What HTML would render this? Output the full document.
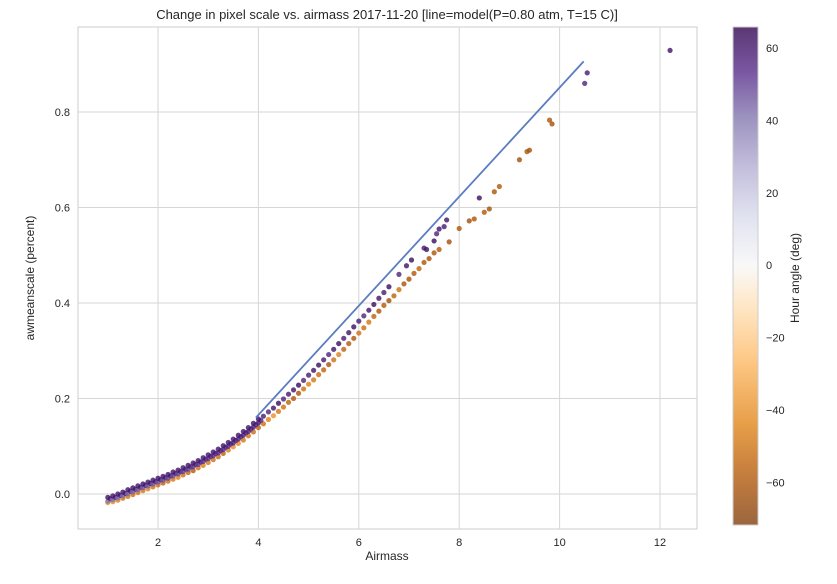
<!DOCTYPE html>
<html><head><meta charset="utf-8"><style>
body{margin:0;background:#fff;}
svg text{font-family:"Liberation Sans",sans-serif;fill:#262626;}
</style></head><body>
<svg id="chart" width="837" height="579" xmlns="http://www.w3.org/2000/svg">
<defs>
<linearGradient id="cbg" x1="0" y1="1" x2="0" y2="0">
<stop offset="0" stop-color="#7f3b08"/><stop offset="0.1" stop-color="#b35806"/><stop offset="0.2" stop-color="#e08214"/><stop offset="0.33" stop-color="#fdb863"/><stop offset="0.44" stop-color="#fee0b6"/><stop offset="0.52" stop-color="#f7f7f7"/><stop offset="0.62" stop-color="#d8daeb"/><stop offset="0.72" stop-color="#b2abd2"/><stop offset="0.82" stop-color="#8073ac"/><stop offset="0.91" stop-color="#542788"/><stop offset="1" stop-color="#2d004b"/>
</linearGradient>
</defs>
<g id="plot"></g>
</svg>
<script>
const xTicks=[2,4,6,8,10,12];
const yTicks=[0.0,0.2,0.4,0.6,0.8];
const cbTicks=[60,40,20,0,-20,-40,-60];
const lineX=[3.95,10.48];
const lineY=[0.16,0.906];
const lowAirmass=[1.0,1.1,1.2,1.3,1.4,1.5,1.6,1.7,1.8,1.9,2.0,2.1,2.2,2.3,2.4,2.5,2.6,2.7,2.8,2.9,3.0,3.1,3.2,3.3,3.4,3.5,3.6,3.7,3.8,3.9,4.0];
const lowScale=[-0.012,-0.009,-0.005,-0.001,0.004,0.008,0.012,0.016,0.020,0.024,0.028,0.032,0.036,0.041,0.045,0.050,0.055,0.060,0.065,0.071,0.077,0.083,0.089,0.096,0.103,0.110,0.118,0.126,0.134,0.143,0.152];
const oAirmass=[1.0,1.1,1.2,1.3,1.4,1.5,1.6,1.7,1.8,1.9,2.0,2.1,2.2,2.3,2.4,2.5,2.6,2.7,2.8,2.9,3.0,3.1,3.2,3.3,3.4,3.5,3.6,3.7,3.8,3.9,4.0,4.1,4.2,4.3,4.4,4.5,4.6,4.7,4.8,4.9,5.0,5.1,5.2,5.3,5.4,5.5,5.6,5.7,5.8,5.9,6.0,6.1,6.2,6.3,6.4,6.5,6.6,6.7,6.8,6.9,7.0,7.1,7.2,7.3,7.4,7.5,7.6,7.8,8.0,8.2,8.3,8.5,8.6,8.7,8.8,9.2,9.35,9.4,9.8,9.85];
const oScale=[-0.018,-0.016,-0.013,-0.009,-0.005,-0.001,0.003,0.007,0.011,0.015,0.019,0.023,0.027,0.031,0.035,0.040,0.045,0.049,0.055,0.060,0.066,0.072,0.078,0.085,0.092,0.099,0.106,0.113,0.122,0.130,0.139,0.147,0.156,0.164,0.173,0.182,0.192,0.200,0.211,0.220,0.230,0.239,0.250,0.260,0.271,0.281,0.292,0.303,0.315,0.326,0.337,0.348,0.360,0.372,0.383,0.395,0.405,0.415,0.428,0.440,0.450,0.462,0.472,0.485,0.493,0.505,0.512,0.528,0.556,0.572,0.576,0.590,0.597,0.633,0.644,0.700,0.717,0.720,0.783,0.775];
const oHour=[-40,-42,-45,-48,-50,-52,-50,-48,-45,-50,-52,-55,-50,-48,-45,-50,-55,-58,-50,-45,-48,-50,-52,-55,-45,-40,-42,-48,-50,-52,-55,-50,-45,-40,-48,-50,-55,-58,-60,-50,-45,-48,-52,-55,-60,-50,-45,-55,-58,-60,-50,-52,-48,-55,-60,-58,-62,-55,-50,-60,-62,-58,-55,-60,-62,-60,-58,-62,-60,-62,-60,-58,-62,-60,-58,-62,-60,-62,-60,-62];
const pAirmass=[4.1,4.2,4.3,4.4,4.5,4.6,4.7,4.8,4.9,5.0,5.1,5.2,5.3,5.4,5.5,5.6,5.7,5.8,5.9,6.0,6.1,6.2,6.3,6.4,6.5,6.6,6.8,6.95,7.05,7.3,7.35,7.5,7.55,7.6,7.7,7.75,8.4,10.5,10.55,12.2];
const pScale=[0.163,0.172,0.180,0.190,0.199,0.209,0.218,0.228,0.238,0.249,0.259,0.270,0.281,0.292,0.303,0.315,0.326,0.338,0.350,0.362,0.373,0.385,0.397,0.410,0.422,0.434,0.460,0.478,0.490,0.515,0.512,0.530,0.545,0.555,0.560,0.574,0.620,0.860,0.882,0.929];
const pHour=[58,55,60,62,55,58,60,62,55,58,60,62,58,55,60,62,58,60,62,58,55,60,62,60,58,62,55,60,62,58,60,62,55,60,58,60,62,55,58,60];

const svg=document.getElementById('chart');
const plot=document.getElementById('plot');
const NS='http://www.w3.org/2000/svg';
const L=78,R=697,T=27,B=529;
const sx=v=>57.6+v*50.2;
const sy=v=>494-v*477.5;
const cbTop=27,cbBot=525,hMin=-71.8,hMax=65.8;
const cy=v=>cbBot-(v-hMin)/(hMax-hMin)*(cbBot-cbTop);
const stops=[[0,[127,59,8]],[0.1,[179,88,6]],[0.2,[224,130,20]],[0.33,[253,184,99]],[0.44,[254,224,182]],[0.52,[247,247,247]],[0.62,[216,218,235]],[0.72,[178,171,210]],[0.82,[128,115,172]],[0.91,[84,39,136]],[1,[45,0,75]]];
function col(h){let t=(h-hMin)/(hMax-hMin);t=Math.max(0,Math.min(1,t));for(let i=1;i<stops.length;i++){if(t<=stops[i][0]){const a=stops[i-1],b=stops[i];const f=(t-a[0])/(b[0]-a[0]);const c=a[1].map((v,k)=>Math.round(v+(b[1][k]-v)*f));return 'rgb('+c.join(',')+')';}}return 'rgb(45,0,75)';}
function mk(tag,attrs,parent){const e=document.createElementNS(NS,tag);for(const k in attrs)e.setAttribute(k,attrs[k]);(parent||plot).appendChild(e);return e;}

const frame=mk('rect',{x:L,y:T,width:R-L,height:B-T,fill:'#fff',stroke:'#ccc','stroke-width':1});


xTicks.forEach(v=>{
  const g=mk('line',{x1:sx(v),x2:sx(v),y1:T,y2:B,stroke:'#d6d6d6','stroke-width':1});
  
  
  const t=mk('text',{x:sx(v),y:B+17,'text-anchor':'middle','font-size':11});
  t.textContent=v;
  
  
});
yTicks.forEach(v=>{
  const g=mk('line',{x1:L,x2:R,y1:sy(v),y2:sy(v),stroke:'#d6d6d6','stroke-width':1});
  
  
  const t=mk('text',{x:L-8,y:sy(v)+4,'text-anchor':'end','font-size':11});
  t.textContent=v.toFixed(1);
  
  
});
function dot(x,y,h){const c=mk('circle',{cx:sx(x),cy:sy(y),r:2.6,fill:col(h),'fill-opacity':0.8});
  
  }
oAirmass.forEach((x,i)=>dot(x,oScale[i],oHour[i]));
lowAirmass.forEach((x,i)=>{dot(x,lowScale[i]-0.003,40+i*0.6);dot(x+0.05,lowScale[i]+0.002,55);dot(x,lowScale[i]+0.005,60);});
pAirmass.forEach((x,i)=>dot(x,pScale[i],pHour[i]));
const ln=mk('line',{x1:sx(lineX[0]),y1:sy(lineY[0]),x2:sx(lineX[1]),y2:sy(lineY[1]),stroke:'#5a7dbf','stroke-width':1.8});



const cb=mk('rect',{x:733,y:cbTop,width:25,height:cbBot-cbTop,fill:'url(#cbg)','fill-opacity':0.78,stroke:'#ccc','stroke-width':1});


cbTicks.forEach(v=>{
  const t=mk('text',{x:766,y:cy(v)+4,'font-size':11});
  t.textContent=v<0?'\u2212'+Math.abs(v):v;
  
  
});
const cl=mk('text',{x:0,y:0,'font-size':12,'text-anchor':'middle',transform:'translate(799,278) rotate(-90)'});
cl.textContent='Hour angle (deg)';


const xl=mk('text',{x:387,y:560,'font-size':12,'text-anchor':'middle'});
xl.textContent='Airmass';


const yl=mk('text',{x:0,y:0,'font-size':12,'text-anchor':'middle',transform:'translate(34,278) rotate(-90)'});
yl.textContent='awmeanscale (percent)';


const ti=mk('text',{x:387,y:19,'font-size':13,'text-anchor':'middle'});
ti.textContent='Change in pixel scale vs. airmass 2017-11-20 [line=model(P=0.80 atm, T=15 C)]';


</script>
</body></html>
